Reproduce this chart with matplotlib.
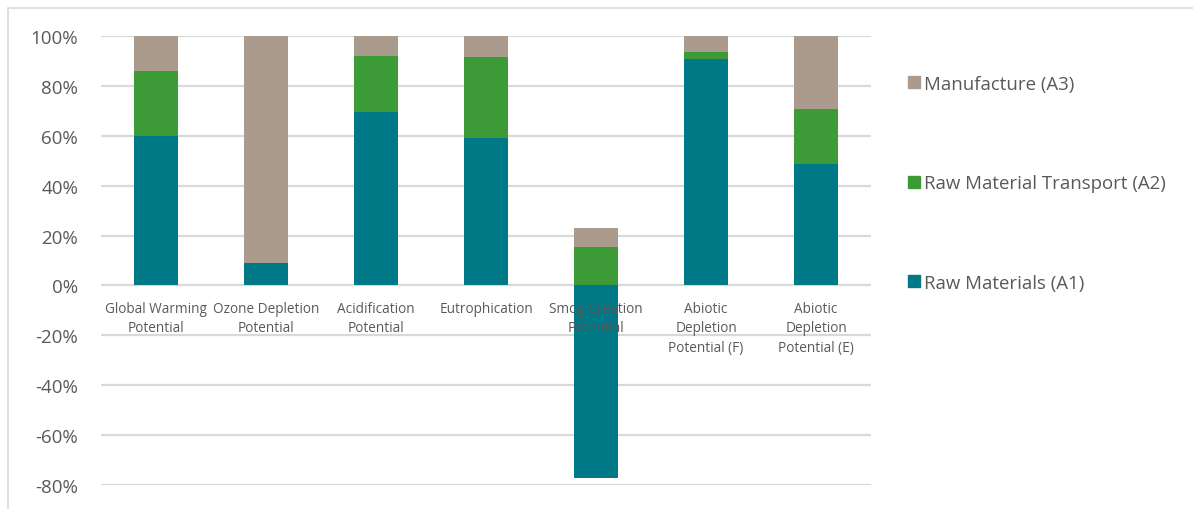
"""Contribution par module (A1-A3) aux catégories d'impact, en % du total."""

import matplotlib

matplotlib.use("Agg")

import matplotlib.pyplot as plt
import numpy as np
from matplotlib.lines import Line2D
from matplotlib.patches import Rectangle
from matplotlib.ticker import FuncFormatter

plt.rcParams["font.family"] = ["Open Sans", "DejaVu Sans"]

categories = [
    "Global Warming\nPotential",
    "Ozone Depletion\nPotential",
    "Acidification\nPotential",
    "Eutrophication",
    "Smog Creation\nPotential",
    "Abiotic\nDepletion\nPotential (F)",
    "Abiotic\nDepletion\nPotential (E)",
]
raw_materials = [60.0, 9.0, 69.5, 59.3, -77.0, 90.8, 48.6]  # A1
transport = [26.0, 0.0, 22.5, 32.4, 15.3, 2.8, 22.1]  # A2
manufacture = [14.0, 91.0, 8.0, 8.3, 7.6, 6.4, 29.3]  # A3

series_names = ["Raw Materials (A1)", "Raw Material Transport (A2)", "Manufacture (A3)"]
colors = ["#007986", "#3d9b37", "#ab9b8d"]

GRID = "#d9d9d9"
TEXT = "#595959"


def _pct(v, _pos):
    # trait d'union simple comme Excel, et pas de « -0% »
    return f"{int(round(v * 100))}%"


def main() -> None:
    fig = plt.figure(figsize=(11.93, 5.10), dpi=100)
    ax = fig.add_axes([0.0847, 0.047, 0.6455, 0.8805])

    x = np.arange(len(categories))
    a1 = np.array(raw_materials) / 100
    a2 = np.array(transport) / 100
    a3 = np.array(manufacture) / 100
    # Excel empile les positifs au-dessus de 0, les négatifs en dessous
    pos_base = np.where(a1 > 0, a1, 0)
    w = 0.4
    ax.bar(x, a1, w, color=colors[0], zorder=2)
    ax.bar(x, a2, w, bottom=pos_base, color=colors[1], zorder=2)
    ax.bar(x, a3, w, bottom=pos_base + a2, color=colors[2], zorder=2)

    ax.set_xlim(-0.5, len(categories) - 0.5)
    ax.set_ylim(-0.8, 1.0)
    ax.set_yticks(np.arange(-0.8, 1.01, 0.2))
    ax.yaxis.set_major_formatter(FuncFormatter(_pct))
    ax.grid(axis="y", color=GRID, linewidth=1.6, zorder=0)
    ax.set_axisbelow(True)
    for s in ax.spines.values():
        s.set_visible(False)
    ax.tick_params(axis="y", length=0, pad=16.5, labelsize=13.5, labelcolor=TEXT)
    ax.set_xticks([])

    for xi, lab in zip(x, categories):
        ax.annotate(lab, (xi, 0), xytext=(0, -11), textcoords="offset points",
                    ha="center", va="top", fontsize=9.8, color=TEXT,
                    linespacing=1.4, zorder=3)

    handles = [Line2D([], [], marker="s", linestyle="none", markersize=9,
                      markerfacecolor=c, markeredgecolor=c) for c in colors]
    leg = fig.legend(handles[::-1], series_names[::-1], loc="upper left",
                     bbox_to_anchor=(0.7525, 0.866), frameon=False,
                     fontsize=13.4, labelspacing=4.38, handletextpad=0.12,
                     handlelength=0.9, borderaxespad=0)
    for t in leg.get_texts():
        t.set_color(TEXT)

    fig.add_artist(Rectangle((0.007, -0.05), 1.2, 1.033, transform=fig.transFigure,
                             fill=False, edgecolor=GRID, linewidth=1.2))

    fig.savefig("out.png", dpi=100)
    plt.close(fig)


if __name__ == "__main__":
    main()
